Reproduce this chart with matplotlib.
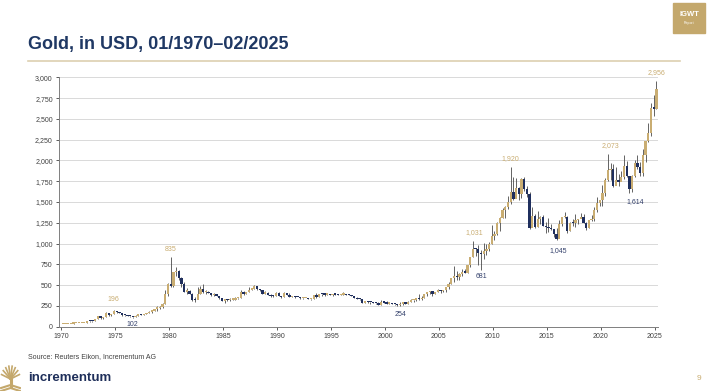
import numpy as np
import matplotlib
matplotlib.use('Agg')
import matplotlib.pyplot as plt
from matplotlib.patches import Rectangle
from matplotlib.lines import Line2D

plt.rcParams['font.family'] = ['Liberation Sans', 'DejaVu Sans']

# Quartalsdaten Gold (USD), 1970Q1 - 2025Q1 (bis Feb)
first_open = 35.2
closes = [
    35.3, 35.4, 36.2, 37.4,          # 1970
    38.9, 40.0, 42.6, 43.6,          # 1971
    48.3, 65.1, 65.0, 64.9,          # 1972
    90.0, 123.3, 100.0, 112.3,       # 1973
    168.0, 143.0, 151.8, 186.5,      # 1974
    177.3, 166.3, 141.3, 140.3,      # 1975
    128.2, 123.8, 116.0, 134.5,      # 1976
    148.9, 143.0, 154.1, 164.9,      # 1977
    181.6, 183.1, 217.1, 226.0,      # 1978
    240.1, 277.5, 397.3, 512.0,      # 1979
    494.5, 653.5, 666.8, 589.8,      # 1980
    513.5, 422.5, 428.8, 397.5,      # 1981
    320.0, 317.5, 397.0, 456.9,      # 1982
    414.8, 416.0, 405.0, 382.4,      # 1983
    394.3, 373.3, 343.8, 309.0,      # 1984
    329.8, 317.8, 326.3, 326.8,      # 1985
    344.5, 345.8, 423.3, 390.9,      # 1986
    421.5, 447.3, 459.5, 484.1,      # 1987
    456.9, 436.6, 397.5, 410.3,      # 1988
    383.2, 373.0, 366.5, 401.0,      # 1989
    368.5, 352.2, 408.4, 386.2,      # 1990
    355.7, 368.4, 354.9, 353.2,      # 1991
    341.7, 343.4, 349.0, 333.0,      # 1992
    337.8, 378.5, 355.5, 391.8,      # 1993
    389.2, 385.8, 394.9, 383.3,      # 1994
    392.0, 387.1, 384.0, 387.0,      # 1995
    396.4, 382.0, 379.0, 369.3,      # 1996
    348.3, 334.6, 332.1, 290.2,      # 1997
    301.0, 296.3, 293.9, 287.8,      # 1998
    279.5, 261.0, 299.0, 290.3,      # 1999
    278.4, 288.2, 273.7, 272.7,      # 2000
    257.7, 270.6, 293.1, 276.5,      # 2001
    301.4, 318.5, 323.7, 342.8,      # 2002
    334.9, 346.0, 388.0, 417.3,      # 2003
    423.7, 395.8, 415.7, 435.6,      # 2004
    427.5, 437.1, 473.3, 513.0,      # 2005
    582.0, 613.5, 599.3, 632.0,      # 2006
    661.8, 650.5, 743.0, 833.8,      # 2007
    933.5, 930.3, 884.5, 869.8,      # 2008
    916.5, 934.5, 995.8, 1087.5,     # 2009
    1115.5, 1244.0, 1307.0, 1405.5,  # 2010
    1439.0, 1505.5, 1620.0, 1531.0,  # 2011
    1662.5, 1598.5, 1776.0, 1657.5,  # 2012
    1598.3, 1192.0, 1326.5, 1204.5,  # 2013
    1291.8, 1315.0, 1216.5, 1199.3,  # 2014
    1187.0, 1171.0, 1114.0, 1060.0,  # 2015
    1233.0, 1320.8, 1322.5, 1145.9,  # 2016
    1244.9, 1242.3, 1283.1, 1291.0,  # 2017
    1324.7, 1250.5, 1187.3, 1279.0,  # 2018
    1295.4, 1409.0, 1485.3, 1523.0,  # 2019
    1608.9, 1768.1, 1886.9, 1891.1,  # 2020
    1691.1, 1770.1, 1742.8, 1805.9,  # 2021
    1937.4, 1807.3, 1660.6, 1812.4,  # 2022
    1969.0, 1919.4, 1848.6, 2062.4,  # 2023
    2229.9, 2326.8, 2634.6, 2624.6,  # 2024
    2858.0,                          # 2025
]
highs = [
    35.7, 35.9, 36.4, 37.6,
    39.5, 40.8, 43.0, 43.9,
    48.6, 67.0, 70.0, 66.0,
    92.0, 127.0, 124.0, 114.0,
    179.5, 170.0, 155.0, 196.0,
    186.0, 178.0, 167.0, 143.0,
    140.0, 128.5, 117.0, 137.0,
    152.0, 150.0, 155.0, 165.0,
    189.0, 186.0, 218.0, 243.0,
    245.0, 282.0, 445.0, 524.0,
    835.0, 653.5, 720.0, 680.0,
    600.0, 540.0, 460.0, 445.0,
    400.0, 352.0, 481.0, 490.0,
    511.0, 440.0, 427.0, 410.0,
    405.0, 395.0, 361.0, 345.0,
    332.0, 334.0, 340.0, 333.0,
    353.0, 348.0, 442.0, 429.0,
    422.0, 478.0, 463.0, 499.0,
    486.0, 458.0, 441.0, 429.0,
    414.0, 390.0, 376.0, 417.0,
    423.0, 372.0, 414.0, 410.0,
    403.0, 372.0, 370.0, 362.0,
    356.0, 345.0, 350.0, 349.0,
    338.0, 380.0, 407.0, 393.0,
    395.0, 392.0, 396.0, 397.0,
    393.0, 396.0, 388.0, 394.0,
    415.0, 397.0, 390.0, 382.0,
    368.0, 352.0, 334.0, 333.0,
    302.0, 314.0, 301.0, 300.0,
    290.0, 292.0, 320.0, 310.0,
    314.0, 293.0, 282.0, 274.0,
    272.0, 295.0, 295.0, 293.0,
    304.0, 330.0, 327.0, 348.0,
    388.0, 372.0, 391.0, 417.3,
    428.0, 427.0, 418.0, 456.0,
    443.0, 443.0, 474.0, 537.0,
    585.0, 730.0, 664.0, 648.0,
    691.0, 691.0, 745.0, 841.0,
    1031.0, 945.0, 986.0, 920.0,
    1006.0, 990.0, 1018.0, 1226.0,
    1153.0, 1265.0, 1315.0, 1431.0,
    1447.0, 1576.0, 1920.0, 1803.0,
    1790.0, 1675.0, 1790.0, 1797.0,
    1696.0, 1616.0, 1434.0, 1361.0,
    1392.0, 1326.0, 1345.0, 1255.0,
    1307.0, 1232.0, 1170.0, 1191.0,
    1284.0, 1315.0, 1375.0, 1337.0,
    1263.0, 1296.0, 1357.0, 1300.0,
    1366.0, 1351.0, 1265.0, 1284.0,
    1346.0, 1439.0, 1557.0, 1525.0,
    1703.0, 1789.0, 2073.0, 1965.0,
    1959.0, 1916.0, 1834.0, 1877.0,
    2070.0, 1998.0, 1814.0, 1823.0,
    2009.0, 2067.0, 1987.0, 2135.0,
    2236.0, 2450.0, 2685.0, 2790.0,
    2956.0,
]
lows = [
    34.8, 35.1, 35.3, 36.0,
    37.3, 38.6, 40.0, 41.9,
    43.5, 48.0, 62.0, 61.5,
    64.0, 89.0, 90.0, 91.0,
    114.0, 128.0, 129.0, 148.0,
    168.0, 162.0, 128.0, 128.0,
    125.0, 122.0, 102.0, 116.0,
    133.0, 140.0, 141.0, 151.0,
    166.0, 168.0, 183.0, 193.0,
    216.0, 230.0, 277.0, 372.0,
    474.0, 481.0, 614.0, 560.0,
    475.0, 420.0, 392.0, 391.0,
    315.0, 297.0, 329.0, 396.0,
    408.0, 399.0, 401.0, 375.0,
    366.0, 372.0, 337.0, 307.0,
    285.0, 311.0, 309.0, 321.0,
    326.0, 336.0, 343.0, 380.0,
    390.0, 420.0, 447.0, 454.0,
    437.0, 433.0, 396.0, 396.0,
    380.0, 358.0, 356.0, 365.0,
    367.0, 345.0, 352.0, 376.0,
    355.0, 355.0, 349.0, 352.0,
    339.0, 336.0, 340.0, 331.0,
    326.0, 337.0, 346.0, 357.0,
    374.0, 373.0, 379.0, 376.0,
    371.0, 381.0, 382.0, 381.0,
    387.0, 380.0, 379.0, 367.0,
    340.0, 336.0, 318.0, 283.0,
    280.0, 282.0, 272.0, 286.0,
    279.0, 258.0, 258.0, 281.0,
    278.0, 272.0, 268.0, 264.0,
    255.0, 254.0, 264.0, 273.0,
    277.0, 298.0, 300.0, 312.0,
    319.0, 321.0, 342.0, 366.0,
    389.0, 371.0, 390.0, 412.0,
    411.0, 413.0, 418.0, 456.0,
    514.0, 543.0, 560.0, 561.0,
    604.0, 640.0, 643.0, 724.0,
    834.0, 850.0, 740.0, 681.0,
    810.0, 865.0, 908.0, 1000.0,
    1045.0, 1107.0, 1157.0, 1310.0,
    1309.0, 1418.0, 1478.0, 1523.0,
    1562.0, 1526.0, 1547.0, 1636.0,
    1555.0, 1180.0, 1207.0, 1187.0,
    1202.0, 1240.0, 1206.0, 1131.0,
    1142.0, 1162.0, 1077.0, 1045.0,
    1061.0, 1208.0, 1310.0, 1124.0,
    1146.0, 1214.0, 1205.0, 1236.0,
    1302.0, 1250.0, 1160.0, 1182.0,
    1277.0, 1266.0, 1382.0, 1446.0,
    1451.0, 1568.0, 1757.0, 1764.0,
    1677.0, 1723.0, 1688.0, 1753.0,
    1781.0, 1805.0, 1614.0, 1617.0,
    1804.0, 1893.0, 1810.0, 1812.0,
    1985.0, 2225.0, 2294.0, 2536.0,
    2614.0,
]

# Beschriftungen der Hoch-/Tiefpunkte: (Text, Jahr, Wert, hoch?)
labels_txt = ['196', '102', '835', '254', '1,031', '681', '1,920', '1,045', '2,073', '1,614', '2,956']
labels_x = [1974.85, 1976.6, 1980.1, 2001.4, 2008.25, 2008.95, 2011.6, 2016.05, 2020.9, 2023.2, 2025.15]
labels_y = [330, 32, 924, 149, 1133, 598, 2017, 916, 2177, 1506, 3053]
labels_high = [True, False, True, False, True, False, True, False, True, False, True]

cor_alta = '#c9ad72'
cor_baixa = '#1f2f5e'
cor_titulo = '#1f3864'

n = len(closes)
x = 1970 + np.arange(n) * 0.25 + 0.15
opens = np.array([first_open] + closes[:-1])
closes_arr = np.array(closes)
sobe = closes_arr >= opens
cores = [cor_alta if s else cor_baixa for s in sobe]

fig = plt.figure(figsize=(7.08, 3.92), dpi=100)
ax = fig.add_axes([59 / 708, 1 - 326.7 / 392, (658 - 59) / 708, (326.7 - 77.3) / 392])

ax.vlines(x, lows, highs, color='#4a4a4a', lw=0.6, zorder=2)
ax.bar(x, np.maximum(np.abs(closes_arr - opens), 14), bottom=np.minimum(opens, closes_arr),
       width=0.21, color=cores, zorder=3, linewidth=0)

for t, lx, ly, alto in zip(labels_txt, labels_x, labels_y, labels_high):
    ax.text(lx, ly, t, fontsize=5, ha='center', va='center',
            color=cor_alta if alto else '#33406b', clip_on=False)

ax.set_xlim(1969.8, 2025.3)
ax.set_ylim(0, 3000)
ax.set_xticks(range(1970, 2026, 5))
ax.set_yticks(range(0, 3001, 250))
ax.set_yticklabels([f'{v:,}' for v in range(0, 3001, 250)])
ax.tick_params(labelsize=5, colors='#404040', length=2.5, width=0.6, pad=2)
ax.grid(axis='y', color='#d9d9d9', lw=0.7, zorder=0)
ax.set_axisbelow(True)
for s in ['top', 'right']:
    ax.spines[s].set_visible(False)
for s in ['left', 'bottom']:
    ax.spines[s].set_color('#7f7f7f')
    ax.spines[s].set_linewidth(0.7)

# Titel und Rahmen
fig.text(28 / 708, 1 - 49 / 392, 'Gold, in USD, 01/1970–02/2025', fontsize=13,
         fontweight='bold', color=cor_titulo, va='baseline')
fig.add_artist(Line2D([28 / 708, 680 / 708], [1 - 61 / 392] * 2, color='#ddd0b0', lw=1.2))

fig.add_artist(Rectangle((673 / 708, 1 - 33 / 392), 32 / 708, 30 / 392, color='#c4a86c'))
fig.text(689 / 708, 1 - 15 / 392, 'IGWT', fontsize=5.5, fontweight='bold', color='white',
         ha='center', va='center')
fig.text(689 / 708, 1 - 23 / 392, 'Report', fontsize=2.5, color='white', ha='center', va='center')

fig.text(28 / 708, 1 - 357 / 392, 'Source: Reuters Eikon, Incrementum AG', fontsize=5,
         color='#404040', va='center')
fig.text(28 / 708, 1 - 378 / 392, 'incrementum', fontsize=9.5, fontweight='bold',
         color='#1f2f5a', va='center')
fig.text(699 / 708, 1 - 378 / 392, '9', fontsize=6, color=cor_alta, va='center', ha='center')

# Logo (Baum)
lg = fig.add_axes([0, 1 - 391 / 392, 21 / 708, 26 / 392])
lg.set_xlim(-1, 1)
lg.set_ylim(0, 1.3)
lg.axis('off')
lg.plot([0, 0], [0.25, 0.75], color='#c4a86c', lw=2.2)
for ang in np.linspace(20, 160, 8):
    r = np.radians(ang)
    lg.plot([0, 0.9 * np.cos(r)], [0.6, 0.6 + 0.65 * np.sin(r)], color='#c4a86c', lw=1.2)
lg.plot([-0.9, 0, 0.9], [0.15, 0.3, 0.15], color='#c4a86c', lw=1.5)
lg.plot([-0.9, 0, 0.9], [0.0, 0.15, 0.0], color='#c4a86c', lw=1.5)

fig.savefig('out.png', dpi=100)
